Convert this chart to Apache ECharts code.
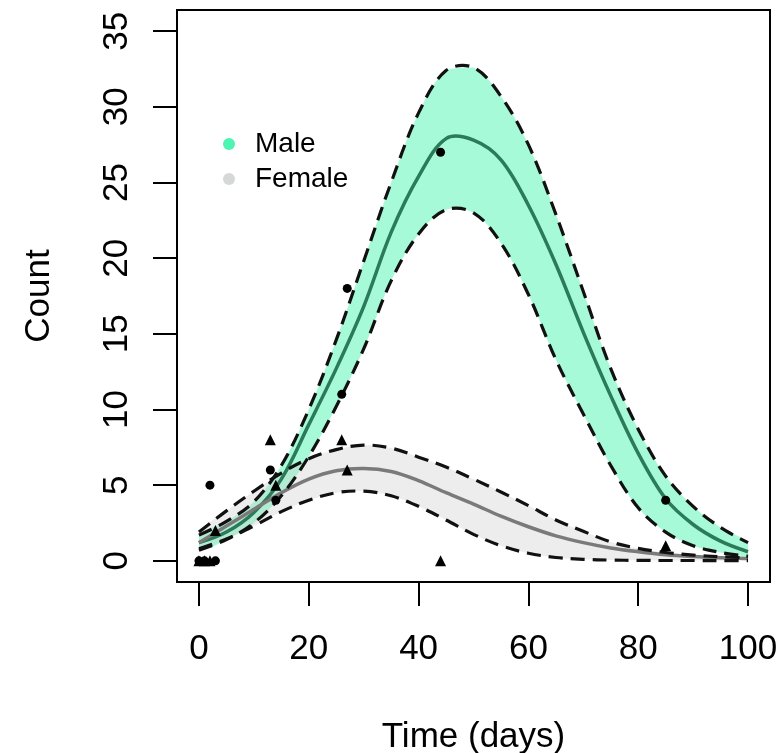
<!DOCTYPE html>
<html>
<head>
<meta charset="utf-8">
<script src="https://cdn.jsdelivr.net/npm/echarts@6/dist/echarts.min.js"></script>
<style>
html,body{margin:0;padding:0;background:#fff;}
#chart{width:779px;height:753px;}
</style>
</head>
<body>
<div id="chart"></div>
<script>
// ---- data ----
const days = [0,5,10,15,20,25,30,35,40,45,50,55,60,65,70,75,80,85,90,95,100];
const maleMean  = [1.2,1.9,3.2,5.4,9.0,12.7,16.8,21.7,25.4,27.9,27.8,26.5,23.5,19.6,15.1,10.9,7.1,4.1,2.4,1.3,0.6];
const maleUpper = [1.7,2.6,3.9,6.3,10.0,14.6,19.8,25.0,29.6,32.4,32.6,30.7,27.5,22.9,17.8,12.7,8.7,5.6,3.6,2.2,1.2];
const maleLower = [0.7,1.4,2.5,4.3,6.9,10.2,14.0,18.5,21.6,23.2,23.0,21.0,17.6,13.3,9.7,6.3,3.5,1.9,1.0,0.55,0.3];
const femaleMean  = [1.2,2.3,3.4,4.5,5.4,5.95,6.1,5.9,5.3,4.5,3.75,2.95,2.25,1.65,1.2,0.85,0.6,0.4,0.28,0.2,0.15];
const femaleUpper = [1.9,3.3,4.6,5.8,6.75,7.35,7.65,7.45,6.85,6.2,5.4,4.55,3.65,2.7,1.95,1.25,0.82,0.55,0.38,0.27,0.2];
const femaleLower = [0.8,1.45,2.3,3.25,4.0,4.5,4.6,4.3,3.6,2.7,1.75,1.0,0.5,0.22,0.1,0.05,0.03,0.02,0.02,0.01,0.01];
const maleObsDays = [0,1,2,3,13,14,26,27,44,85];
const maleObs     = [0,0,5,0,6,4,11,18,27,4];
const femaleObsDays = [0,1,2,3,13,14,26,27,44,85];
const femaleObs     = [0,0,0,2,8,5,8,6,0,1];
const xTicks = [0,20,40,60,80,100];
const yTicks = [0,5,10,15,20,25,30,35];

// ---- helpers ----
const pairs = (xs, ys) => xs.map((x, i) => [x, ys[i]]);
const FONT = '"Liberation Sans", Arial, sans-serif';
const dash = [14, 8];
const SMOOTH = 0.35;

function bbox(pts) {
  let x0 = Infinity, y0 = Infinity, x1 = -Infinity, y1 = -Infinity;
  pts.forEach(p => { x0 = Math.min(x0, p[0]); y0 = Math.min(y0, p[1]); x1 = Math.max(x1, p[0]); y1 = Math.max(y1, p[1]); });
  return [[x0, y0], [x1, y1]];
}
function bandSeries(name, lower, upper, color) {
  return {
    name: name, type: 'custom', silent: true, clip: true,
    itemStyle: { color: color },
    encode: { x: 0, y: 1 },
    data: [[days[0], lower[0]]],
    renderItem: function (params, api) {
      const pts = [];
      for (let i = 0; i < days.length; i++) pts.push(api.coord([days[i], upper[i]]));
      for (let i = days.length - 1; i >= 0; i--) pts.push(api.coord([days[i], lower[i]]));
      return { type: 'polygon', shape: { points: pts, smooth: SMOOTH, smoothConstraint: bbox(pts) },
        style: { fill: color, stroke: null } };
    }
  };
}
function curveSeries(values, color, width, lineDash) {
  return {
    type: 'custom', silent: true, clip: true,
    encode: { x: 0, y: 1 },
    data: [[days[0], values[0]]],
    renderItem: function (params, api) {
      const pts = days.map((d, i) => api.coord([d, values[i]]));
      return { type: 'polyline', shape: { points: pts, smooth: SMOOTH },
        style: { fill: null, stroke: color, lineWidth: width, lineDash: lineDash || null, lineCap: 'butt', lineJoin: 'round' } };
    }
  };
}

const chart = echarts.init(document.getElementById('chart'), null, { renderer: 'canvas' });
chart.setOption({
  animation: false,
  backgroundColor: '#fff',
  textStyle: { fontFamily: FONT },
  grid: { left: 177, right: 9, top: 10, bottom: 171, show: true, borderColor: '#000', borderWidth: 2,
    backgroundColor: 'transparent', containLabel: false, outerBoundsMode: 'none' },
  legend: {
    left: 218, top: 125, orient: 'vertical', itemWidth: 42, itemHeight: 12, itemGap: 7,
    selectedMode: false,
    textStyle: { fontSize: 28, color: '#000', fontFamily: FONT },
    data: [
      { name: 'Male', icon: 'circle', itemStyle: { color: '#4DF5B0' } },
      { name: 'Female', icon: 'circle', itemStyle: { color: '#D6D8D8' } }
    ]
  },
  xAxis: {
    type: 'value', min: -4, max: 104,
    name: 'Time (days)', nameLocation: 'middle', nameGap: 138,
    nameTextStyle: { fontSize: 35, color: '#000', fontFamily: FONT },
    axisLine: { show: false, onZero: false },
    splitLine: { show: false },
    axisTick: { show: true, length: 24, customValues: xTicks, lineStyle: { color: '#000', width: 2 } },
    axisLabel: { customValues: xTicks, fontSize: 35, color: '#000', margin: 50, fontFamily: FONT }
  },
  yAxis: {
    type: 'value', min: -1.4, max: 36.4,
    name: 'Count', nameLocation: 'middle', nameGap: 120, nameRotate: 90,
    nameTextStyle: { fontSize: 35, color: '#000', fontFamily: FONT },
    axisLine: { show: false, onZero: false },
    splitLine: { show: false },
    axisTick: { show: true, length: 24, customValues: yTicks, lineStyle: { color: '#000', width: 2 } },
    axisLabel: { customValues: yTicks, fontSize: 35, color: '#000', margin: 42, rotate: 90, fontFamily: FONT }
  },
  series: [
    bandSeries('Male', maleLower, maleUpper, 'rgba(77,245,176,0.5)'),
    bandSeries('Female', femaleLower, femaleUpper, 'rgba(200,204,200,0.35)'),
    curveSeries(maleMean, '#2B7A59', 3.5),
    curveSeries(femaleMean, '#7A7A7A', 3.5),
    curveSeries(maleUpper, '#111', 3.2, dash),
    curveSeries(maleLower, '#111', 3.2, dash),
    curveSeries(femaleUpper, '#111', 3.2, dash),
    curveSeries(femaleLower, '#111', 3.2, dash),
    { type: 'scatter', z: 5, symbol: 'circle', symbolSize: 9, itemStyle: { color: '#000', opacity: 1 }, silent: true,
      data: pairs(maleObsDays, maleObs) },
    { type: 'scatter', z: 5, symbol: 'triangle', symbolSize: 11, itemStyle: { color: '#000', opacity: 1 }, silent: true,
      data: pairs(femaleObsDays, femaleObs) }
  ]
});
</script>
</body>
</html>
